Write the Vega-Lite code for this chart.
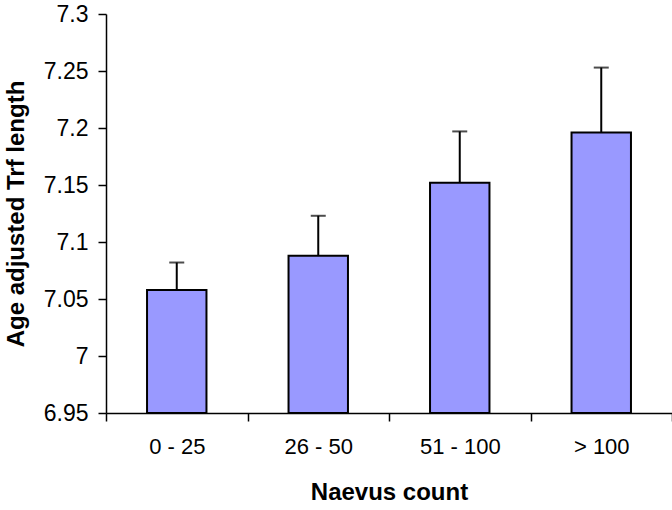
{
  "$schema": "https://vega.github.io/schema/vega-lite/v6.json",
  "width": 566,
  "height": 399,
  "autosize": {"type": "none"},
  "padding": {"left": 106, "top": 14, "right": 0, "bottom": 97},
  "background": "white",
  "config": {
    "view": {"stroke": null},
    "font": "Liberation Sans",
    "axis": {
      "labelFont": "Liberation Sans",
      "titleFont": "Liberation Sans",
      "labelColor": "black",
      "titleColor": "black",
      "domainColor": "black",
      "tickColor": "black",
      "grid": false
    }
  },
  "data": {
    "values": [
      {"group": "0 - 25", "mean": 7.058, "upper": 7.082},
      {"group": "26 - 50", "mean": 7.088, "upper": 7.123},
      {"group": "51 - 100", "mean": 7.152, "upper": 7.197},
      {"group": "> 100", "mean": 7.196, "upper": 7.253}
    ]
  },
  "encoding": {
    "x": {
      "field": "group",
      "type": "nominal",
      "sort": null,
      "scale": {"paddingInner": 0, "paddingOuter": 0},
      "axis": {
        "title": "Naevus count",
        "labelAngle": 0,
        "labelFontSize": 22,
        "titleFontSize": 24,
        "titleFontWeight": "bold",
        "tickBand": "extent",
        "tickSize": 8,
        "tickWidth": 1.5,
        "domainWidth": 1.5,
        "labelPadding": 15,
        "titlePadding": 23
      }
    }
  },
  "layer": [
    {
      "mark": {"type": "bar", "fill": "#9999FF", "stroke": "black", "strokeWidth": 2, "width": {"band": 0.42}},
      "encoding": {
        "y": {
          "field": "mean",
          "type": "quantitative",
          "scale": {"domain": [6.95, 7.3], "zero": false, "nice": false},
          "axis": {
            "title": "Age adjusted Trf length",
            "labelFontSize": 23,
            "titleFontSize": 24,
            "titleFontWeight": "bold",
            "values": [6.95, 7, 7.05, 7.1, 7.15, 7.2, 7.25, 7.3],
            "format": ".3~g",
            "tickSize": 8,
            "tickWidth": 1.5,
            "domainWidth": 1.5,
            "labelPadding": 10,
            "titlePadding": 15
          }
        },
        "y2": {"datum": 6.95}
      }
    },
    {
      "mark": {"type": "rule", "color": "black", "strokeWidth": 2},
      "encoding": {
        "y": {"field": "mean", "type": "quantitative"},
        "y2": {"field": "upper"}
      }
    },
    {
      "mark": {"type": "tick", "color": "black", "thickness": 2, "size": 15, "orient": "horizontal"},
      "encoding": {
        "y": {"field": "upper", "type": "quantitative"}
      }
    }
  ]
}
